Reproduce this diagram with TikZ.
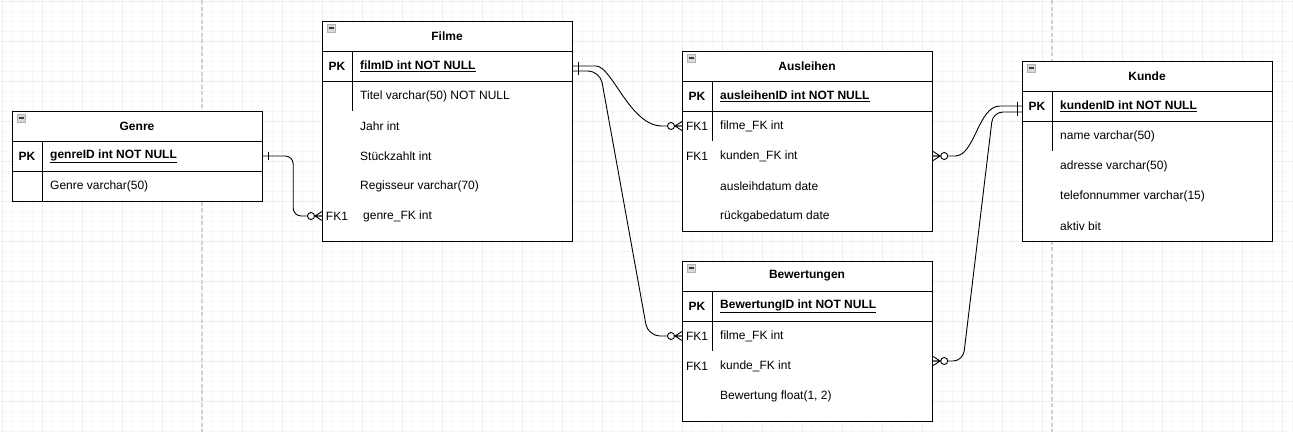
\documentclass[tikz,border=0pt]{standalone}
\usepackage{fontspec}
\setmainfont{Liberation Sans}
\usepackage{tikz}
\usetikzlibrary{calc}

\tikzset{
  conn/.style={line width=0.9pt, black},
  zmany/.pic={
    \draw[conn] (-7,0) -- (0,-4.5) (-7,0) -- (0,4.5) (-7,0) -- (0,0);
    \draw[conn, fill=white] (-11,0) circle (3.5pt);
  },
  onebar/.pic={\draw[conn] (-5,-4) -- (-5,4);},
  collapse/.pic={
    \draw[gray!60, fill=gray!30] (0,0) rectangle (8,8);
    \draw[black!75, line width=1.3pt] (1.5,4) -- (6.5,4);
  }
}

\begin{document}
\begin{tikzpicture}[x=1pt, y=-1pt, font=\fontsize{12}{14}\selectfont,
    tbl/.style={draw, line width=1.2pt, fill=white, anchor=north west, minimum width=250pt, inner sep=0pt},
    hdr/.style={font=\fontsize{12}{14}\selectfont\bfseries},
    attr/.style={anchor=west, inner sep=0pt},
    pk/.style={attr, font=\fontsize{12}{14}\selectfont\bfseries},
    key/.style={inner sep=0pt},
    keyb/.style={key, font=\fontsize{12}{14}\selectfont\bfseries},
    sep/.style={line width=1pt},
    minor/.style={gray!6, line width=1pt},
    major/.style={gray!14, line width=1pt},
    pagebreak/.style={gray!35, line width=1.3pt, dash pattern=on 4pt off 2.5pt}]

  \useasboundingbox (0,0) rectangle (1293,432);
  \fill[white] (0,0) rectangle (1293,432);

  % background grid
  \foreach \x in {2,12,...,1292} \draw[minor] (\x,0) -- (\x,432);
  \foreach \y in {1,11,...,431} \draw[minor] (0,\y) -- (1293,\y);
  \foreach \x in {2,42,...,1282} \draw[major] (\x,0) -- (\x,432);
  \foreach \y in {1,41,...,401} \draw[major] (0,\y) -- (1293,\y);
  \draw[pagebreak] (202,0) -- (202,432);
  \draw[pagebreak] (1052,0) -- (1052,432);

  % Genre
  \node[tbl, minimum height=90pt] (genre) at (12,111) {};
  \pic at ([shift={(5,3)}]genre.north west) {collapse};
  \node[hdr] at (137,126) {Genre};
  \draw[sep] (12,141) -- (262,141) (12,171) -- (262,171) (42,141) -- (42,201);
  \node[keyb] at (27,156) {PK};
  \node[pk] (gPK) at (50,156) {\underline{genreID int NOT NULL}};
  \node[attr] at (50,186) {Genre varchar(50)};

  % Filme
  \node[tbl, minimum height=220pt] (filme) at (322,21) {};
  \pic at ([shift={(5,3)}]filme.north west) {collapse};
  \node[hdr] at (447,36) {Filme};
  \draw[sep] (322,51) -- (572,51) (322,81) -- (572,81) (352,51) -- (352,111);
  \node[keyb] at (337,66) {PK};
  \node[pk] (fPK) at (360,66) {\underline{filmID int NOT NULL}};
  \foreach \t [count=\i] in {Titel varchar(50) NOT NULL, Jahr int, Stückzahlt int, Regisseur varchar(70)}
    \node[attr] at (360,66+30*\i) {\t};
  \node[key] at (337,216) {FK1};
  \node[attr] (fGenre) at (363,216) {genre\_FK int};

  % Ausleihen
  \node[tbl, minimum height=180pt] (ausl) at (682,51) {};
  \pic at ([shift={(5,3)}]ausl.north west) {collapse};
  \node[hdr] at (807,66) {Ausleihen};
  \draw[sep] (682,81) -- (932,81) (682,111) -- (932,111) (712,81) -- (712,141);
  \node[keyb] at (697,96) {PK};
  \node[pk] (aPK) at (720,96) {\underline{ausleihenID int NOT NULL}};
  \node[key] at (697,126) {FK1};
  \node[attr] (aFilme) at (720,126) {filme\_FK int};
  \node[key] at (697,156) {FK1};
  \node[attr] (aKunde) at (720,156) {kunden\_FK int};
  \node[attr] at (720,186) {ausleihdatum date};
  \node[attr] at (720,216) {rückgabedatum date};

  % Bewertungen
  \node[tbl, minimum height=160pt] (bew) at (682,261) {};
  \pic at ([shift={(5,3)}]bew.north west) {collapse};
  \node[hdr] at (807,276) {Bewertungen};
  \draw[sep] (682,291) -- (932,291) (682,321) -- (932,321) (712,291) -- (712,351);
  \node[keyb] at (697,306) {PK};
  \node[pk] (bPK) at (720,306) {\underline{BewertungID int NOT NULL}};
  \node[key] at (697,336) {FK1};
  \node[attr] (bFilme) at (720,336) {filme\_FK int};
  \node[key] at (697,366) {FK1};
  \node[attr] (bKunde) at (720,366) {kunde\_FK int};
  \node[attr] at (720,396) {Bewertung float(1, 2)};

  % Kunde
  \node[tbl, minimum height=180pt] (kunde) at (1022,61) {};
  \pic at ([shift={(5,3)}]kunde.north west) {collapse};
  \node[hdr] at (1147,76) {Kunde};
  \draw[sep] (1022,91) -- (1272,91) (1022,121) -- (1272,121) (1052,91) -- (1052,151);
  \node[keyb] at (1037,106) {PK};
  \node[pk] (kPK) at (1060,106) {\underline{kundenID int NOT NULL}};
  \foreach \t [count=\i] in {name varchar(50), adresse varchar(50), telefonnummer varchar(15), aktiv bit}
    \node[attr] at (1060,106+30*\i) {\t};

  % relations
  \draw[conn, rounded corners=8] (genre.east |- gPK) -- ++(30,0) |- (filme.west |- fGenre);
  \draw[conn] (filme.east |- fPK) -- (596,66) .. controls (612,66) and (630,126) .. (662,126) -- (ausl.west |- aFilme);
  \draw[conn, rounded corners=12] ([yshift=-5pt]filme.east |- fPK) -- (600,71) -- (648,336) -- (bew.west |- bFilme);
  \draw[conn] (ausl.east |- aKunde) -- (955,156) .. controls (975,156) and (978,106) .. (1000,106) -- (kunde.west |- kPK);
  \draw[conn, rounded corners=10] ([yshift=5pt]bew.east |- bKunde) -- (963,361) -- (993,112) -- ([yshift=-6pt]kunde.west |- kPK);

  \pic[rotate=180] at (genre.east |- gPK) {onebar};
  \pic at (filme.west |- fGenre) {zmany};
  \pic[rotate=180] at (filme.east |- fPK) {onebar};
  \pic[rotate=180] at ([yshift=-5pt]filme.east |- fPK) {onebar};
  \pic at (ausl.west |- aFilme) {zmany};
  \pic at (bew.west |- bFilme) {zmany};
  \pic[rotate=180] at (ausl.east |- aKunde) {zmany};
  \pic[rotate=180] at ([yshift=5pt]bew.east |- bKunde) {zmany};
  \pic at (kunde.west |- kPK) {onebar};
  \pic at ([yshift=-6pt]kunde.west |- kPK) {onebar};
\end{tikzpicture}
\end{document}
